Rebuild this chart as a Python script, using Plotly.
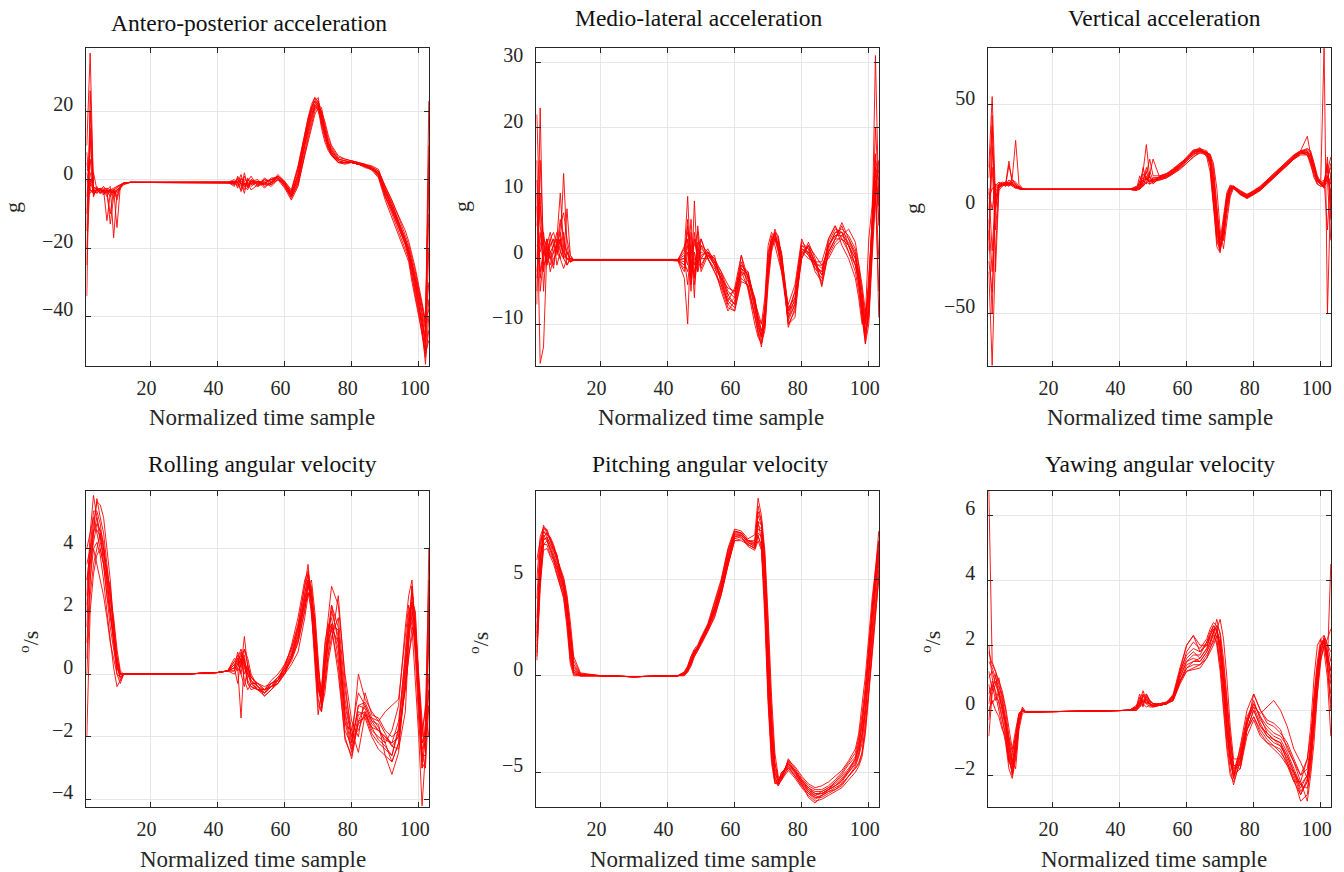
import plotly.graph_objects as go

# shared normalized time grid
time_sample = [1, 2, 3, 4, 5, 6, 7, 8, 9, 10, 11, 12, 14, 20, 30, 40, 43, 45, 46, 47, 48, 49, 50,
               52, 54, 56, 58, 60, 62, 64, 66, 67, 68, 69, 70, 71, 72, 73, 74, 76, 78, 80, 82, 84,
               86, 88, 90, 92, 94, 96, 97, 98, 99, 100, 101, 102, 103]
x_ticks = [20, 40, 60, 80, 100]

titles = ["Antero-posterior acceleration", "Medio-lateral acceleration", "Vertical acceleration",
          "Rolling angular velocity", "Pitching angular velocity", "Yawing angular velocity"]
units = ["g", "g", "g", "<sup>o</sup>/s", "<sup>o</sup>/s", "<sup>o</sup>/s"]
y_ticks = [[-40, -20, 0, 20], [-10, 0, 10, 20, 30], [-50, 0, 50],
           [-4, -2, 0, 2, 4], [-5, 0, 5], [-2, 0, 2, 4, 6]]

ap_acc = [
    [10, 37, -3, -3, -3.5, -3, -3.5, -3, -2.5, -2, -1.5, -1, -0.8, -0.8, -0.8, -0.7, -0.8, -1, 0.5, -1.5, 0, -1, -2, -0.5, -1, 0, 1, -1, -4, 1, 11, 15, 19, 22, 23, 18, 14, 10, 8, 5.5, 5, 5, 4.5, 4, 3, 1.5, -4, -8, -13, -18, -21, -26, -30, -35, -40, -46, 23],
    [-34, 26, -2, -3, -4, -3, -12, -4, -3, -2, -1.5, -1, -0.8, -0.8, -0.9, -0.8, -0.7, -0.5, -2, -1, -3, 0, -1, -2, 0.5, -1, 0.5, -2, -5.5, -1, 9, 13, 17, 21, 22, 20, 15, 11, 9, 6, 5.5, 5, 4.5, 4, 3.5, 2, -3, -7, -12, -17, -20, -24, -29, -34, -38, -44, -30],
    [5, -2, 2, -3, -2.5, -4, -3, -2, -17, -4, -2, -1, -0.8, -0.8, -0.8, -0.8, -0.8, 0, -1, 1.5, -2, -1, 0, -1.5, -1, -2, 0, -1.5, -3.5, 3, 13, 17, 21, 24, 22, 16, 12, 9, 7, 5, 5, 5.5, 5, 4.5, 3.5, 2.5, -2, -6, -11, -16, -19, -23, -27, -32, -37, -42, 0],
    [-20, 0, -4, -3.5, -3, -2.5, -3, -5, -3, -14, -2, -1, -0.8, -0.8, -0.7, -0.8, -0.9, -1.5, -0.5, -3.5, -1, -2, -0.5, 0, -2, -1, 1.5, -0.5, -3, 4, 14, 18, 21, 23, 21, 15, 11, 8.5, 7, 5, 5, 5, 4.5, 4, 3.5, 1, -5, -10, -15, -20, -23, -28, -33, -38, -43, -54, -40],
    [8, -4, -3, -4, -3, -3.5, -4, -3, -4, -3, -2, -1.2, -0.8, -0.8, -0.8, -0.8, -0.8, -1, -1.5, 0, -0.5, -2.5, -1, -1, 0, -0.5, 0.5, -1.5, -4.5, 0, 10, 14, 18, 21, 21, 19, 15, 11, 8.5, 6, 5.5, 5, 4.5, 3.5, 3, 1.5, -3.5, -8, -13, -18, -22, -27, -31, -37, -42, -48, -10],
    [-10, 15, -5, -2.5, -3, -3, -4, -10, -3, -2.5, -1.5, -1, -0.8, -0.8, -0.8, -0.8, -0.7, -2, 1, -1, -4, 0.5, -1.5, -0.5, -1.5, -1, 0, -2.5, -6, -2, 8, 12, 16, 20, 22, 21, 16, 12, 9.5, 6.5, 6, 5.5, 5, 4.5, 4, 3, -2.5, -7, -12, -17, -20, -25, -29, -33, -39, -50, -35],
    [2, -3, -3.5, -3, -4, -3, -2.5, -3, -5, -3, -2.5, -1.5, -0.8, -0.8, -0.8, -0.8, -0.8, -0.5, -1, -2, 1, -1.5, -0.5, -1, -0.5, 0, 1, -1, -5, 2, 12, 16, 20, 22, 20, 17, 13, 10, 8, 5.5, 5, 5, 4.5, 4, 3, 2, -4.5, -9, -14, -19, -22, -26, -31, -36, -41, -47, 10],
    [-5, 6, -4, -3, -3.5, -4.5, -3, -3.5, -3, -6, -2, -1, -0.8, -0.8, -0.8, -0.7, -0.8, -1, 0, -1, -2, -3, 0, -1, -1.5, 0.5, 0.5, -1, -4, 1.5, 12, 17, 21, 23, 22, 17, 13, 9.5, 7.5, 5, 4.5, 5, 4.5, 4, 3, 1, -5, -9, -14, -19, -23, -29, -34, -39, -45, -52, -44],
    [0, -3, -4, -3, -2.5, -3.5, -3, -4, -3.5, -3, -2, -1, -0.8, -0.8, -0.8, -0.8, -0.8, -0.5, -2.5, 0.5, -1.5, -1, -3, -1.5, 0, -1.5, 1, -0.5, -3.5, 3.5, 13.5, 18, 22, 24, 23, 19, 14, 10, 7.5, 5, 5, 5, 4.5, 3.8, 2.8, 0.5, -6, -11, -16, -21, -24, -30, -35, -40, -45, -50, -20],
    [-15, 20, -3, -2, -4, -3, -5, -3, -4, -3.5, -2.5, -1.2, -0.8, -0.8, -0.8, -0.8, -0.8, -1.2, 0, -1, -1.5, -0.5, 1, -2, -1, 0, 0.5, -2, -5, -1.5, 7, 11, 15, 19, 21, 20, 17, 13, 10, 7, 6, 5.5, 5, 4.5, 3.8, 2.5, -2, -6, -11, -15, -18, -22, -26, -31, -36, -41, -38],
    [3, 2, -3, -4, -3, -2, -3, -13, -5, -3, -2, -1, -0.8, -0.8, -0.8, -0.8, -0.8, -0.8, -1, -3, 2, -2, -1, -0.5, -2.5, -0.5, 1, -1, -4.5, 0.5, 11, 16, 20, 23, 24, 18, 13, 9.5, 7.5, 5, 4.8, 5.2, 4.8, 4.2, 3.2, 1.5, -3.5, -8.5, -13.5, -18.5, -21.5, -25, -30, -36, -44, -51, -47],
    [-25, 12, -4.5, -3, -3, -4, -3.5, -3, -3, -5, -2, -1, -0.8, -0.8, -0.8, -0.8, -0.8, -1, -0.5, -0.5, -1, -2, -0.5, -1, -1, -1.5, 0, -1.5, -5, -0.5, 10, 14, 18.5, 21.5, 22.5, 18, 14, 10.5, 8.5, 6, 5.5, 5, 4.5, 4, 3.2, 2, -3, -7.5, -12.5, -17.5, -21, -25, -28, -33, -37, -43, 5],
]

ml_acc = [
    [22, 5, 1, 0, 3, 1, 2, 4, 1, 0, -0.5, -0.3, -0.2, -0.2, -0.2, -0.2, -0.3, 1, 9.5, -2, 3, 0, 1, 0.5, -1, -3, -6, -7, -2, -3, -8, -10, -12, -8, 0, 3, 4, 2, -1, -9, -6, 1, 2, -1, -2, 2, 4, 4, 3, 1, -2, -6, -11, -5, 6, 14, 12],
    [-7, 23, -2, 2, 0, -1.5, 3, 10, 2, -1, 0, -0.2, -0.2, -0.2, -0.2, -0.3, -0.2, -3, -10, 4, -1, 2, -1, 1, 0, -2, -5, -6, -1, -2, -7, -9, -11, -10, -2, 2, 3, 3, 0, -8, -7, 2, 1, -1, -1, 1, 3, 5, 2, 0, -4, -8, -13, -6, 4, 31, 8],
    [10, -16, -13.5, 1, 2, 3, 1, 2, 13, 2, -0.5, -0.2, -0.2, -0.2, -0.2, -0.2, -0.4, 2, 3, -5, 8.8, -2, 3, 0, 0.5, -4, -7, -8, -3, -4, -9, -11, -13.5, -9, -1, 2, 4.5, 3, 0, -10, -8, 0, 2.5, 0, -4, 1, 3, 3, 2, -1, -3, -7, -12, -8, 2, 12, -9],
    [0, 8, 3, -1, 1, 2, 3, 1, 0, 7.6, 0.5, -0.3, -0.2, -0.2, -0.2, -0.2, -0.2, 0, -4, 2, -6, 5, 0, 1.5, -0.5, -2.5, -5.5, -5, -1.5, -3.5, -6, -9, -10, -6, 2, 4, 3, 1, -2, -7, -4, 3, 0.5, -1.5, -3, 3, 5, 3, 1, -1, -3, -9, -13, -10, 0, 9, 15],
    [15, -5, 0, 2, 4, 2, 1, 0, -1.5, 0, -0.3, -0.2, -0.2, -0.2, -0.1, -0.2, -0.2, -1, 5, 0, -3, 1, 3, 0, -1.5, -3, -7, -6, 0.5, -5, -10, -12, -13, -11, -4, 1, 3, 2.5, 1, -8, -5, 2, 1.5, -0.5, -0.5, 3, 5, 2, 0, -3, -6, -10, -9, 3, 8, 16, 5],
    [5, 10, -5, 3, 1, -1, 2, 6, 3, 1, 0, -0.3, -0.2, -0.2, -0.2, -0.2, -0.2, -2, 1, -3, 4, -1, 2, 0, -2, -4, -6.5, -7.5, -2.5, -2, -7, -10, -12, -9, -2, 2.5, 3.5, 2, -1, -9, -7, 1, 1, -1.5, -2, 2, 3.5, 4, 2, 0, -2, -5, -10, -3, 5, 12, 8],
    [-3, 2, 4, 0, -1, 1, 0.5, 3, 0, 1, 0, -0.2, -0.2, -0.2, -0.2, -0.2, -0.2, 0.5, -1, 6, -3, 2.5, 1.5, 0.5, -0.5, -3, -4.5, -5, -0.5, -3, -6.5, -8.5, -10, -8, 0, 3.5, 2, 0, -2, -9.5, -7, 0, 2, 0.5, -1, 0, 2, 3, 2, -1, -4, -8, -11, -9, 1, 11, 0],
    [8, -3, 1, 1.5, 0, 2, 4, 2, 1, 0, -0.5, -0.2, -0.2, -0.2, -0.2, -0.2, -0.3, -1.5, 2, -1, 0, -0.5, 0.5, 1, -1, -5, -8, -6.5, -2, -4.5, -9, -11, -12.5, -10, -1, 2, 4, 2, 0.5, -10, -9, 1.5, 1, -1, -2.5, 2.5, 4.5, 4, 1, -2, -5, -9, -12, -7, 3, 20, 10],
    [2, 1, 3, 2, -2, 0, 1, 5, 7, 3, 0.5, -0.2, -0.2, -0.2, -0.2, -0.2, -0.2, -0.5, -2, 1, 2, 4, -2, 0.5, 0, -3.5, -6.5, -4.5, 0.5, -3, -7.5, -10.5, -12, -7, 1, 3, 3, 1.5, -1.5, -8.5, -5, 2.5, 1.5, -2, -3.5, 1.5, 4, 4.5, 3.5, 1.5, -1, -5, -9, -4, 5, 15, 13],
    [-5, 15, 2, -1, 2, 3, -1, 1, 4, 0, 0, -0.2, -0.2, -0.2, -0.2, -0.2, -0.2, 1.5, 4, 3, -4, 0, 2, 1, -1, -2.5, -5.5, -7, -1, -2.5, -6.5, -9.5, -11.5, -10.5, -3, 1.5, 3, 2.5, 0.5, -7.5, -6, 1, 0, -0.5, -1.5, 2, 3.5, 3.5, 2.5, 0.5, -2.5, -7, -12, -9, 2, 10, -5],
    [12, -2, 1, 3, 0, 1, 2, 0, 2, 1, -0.5, -0.2, -0.2, -0.2, -0.2, -0.2, -0.2, 0, 6, -4, 1, -2, 0, 0, -2, -4.5, -7.5, -8, -3.5, -4, -8.5, -11.5, -13, -10, -2, 2, 4, 3.5, 0.5, -10.5, -7.5, 0.5, 2, -0.5, -2.5, 0.5, 2.5, 3.5, 4.5, 2.5, -0.5, -4, -8, -6, 3, 14, 6],
    [-2, 4, -1, 0, 3, 4, 2, 3, 0, -1, 0, -0.2, -0.2, -0.2, -0.2, -0.2, -0.2, -1, 3, -2, -2, 1.5, -1.5, 1, -0.5, -2, -4, -5.5, -1.5, -2.5, -6, -9, -11, -9, -1.5, 2.5, 3.5, 1.5, -1, -8, -6.5, 1.5, 0.5, -0.5, -4.3, 1, 3, 5.5, 3, 0.5, -3, -6.5, -10, -4, 6, 13, 9],
]

vt_acc = [
    [20, 54, 5, 12, 12, 12, 13, 11, 10, 10, 9.5, 9.5, 9.5, 9.5, 9.5, 9.5, 9.5, 10, 12, 14, 18, 13, 15, 15, 16, 18, 21, 23, 26, 28, 26, 22, 8, -12, -18, -5, 6, 11, 10, 8, 6, 8, 10, 13, 16, 19, 22, 25, 27, 27, 25, 19, 14, 12, 12, 15, 20],
    [-30, -75, -20, 9, 11, 12, 23, 12, 11, 10, 9.5, 9.5, 9.5, 9.5, 9.5, 9.5, 9.5, 9, 14, 18, 31, 15, 13, 16, 17, 19, 22, 24, 27, 29, 27, 24, 12, -5, -17, -12, 3, 9, 11, 8.5, 7, 8.5, 10.5, 13.5, 16.5, 19.5, 22.5, 25.5, 28, 28, 24, 18, 13, 13, 78, -50, 10],
    [-10, -50, 12, 11, 12, 13, 12, 15, 33, 12, 10, 9.5, 9.5, 9.5, 9.5, 9.5, 9.5, 11, 10, 20, 14, 17, 24, 15, 16.5, 19, 21, 24, 28, 29.5, 25, 18, 2, -15, -20, -8, 4, 10, 11, 7, 5.5, 7.5, 9.5, 12.5, 15.5, 18.5, 21.5, 24.5, 27, 26, 21, 16, 12, 11, 11, 18, 25],
    [0, 20, -10, 10, 11.5, 12, 11, 13, 10, 11, 9.5, 9.5, 9.5, 9.5, 9.5, 9.5, 9.5, 9.5, 9.5, 12, 15, 13, 14, 14.5, 15.5, 17.5, 20, 23, 26.5, 27, 27, 25, 15, 0, -14, -15, 0, 8, 10.5, 7.5, 6, 8, 10, 13, 16, 19, 22, 25, 28, 29, 27, 22, 16, 13, 12, 14, -15],
    [10, -20, 8, 12, 13, 12.5, 12, 11, 12, 10, 9.5, 9.5, 9.5, 9.5, 9.5, 9.5, 9.5, 10, 11, 13, 16, 12, 13, 14, 15, 17, 19.5, 22, 25, 27, 26, 23, 10, -8, -20, -10, 5, 10, 10, 7, 5.5, 7.5, 9.5, 12.5, 15.5, 18.5, 21, 24, 26, 26, 23, 17, 13, 12, 11, 16, 12],
    [-20, 30, 2, 11, 12, 11.5, 14, 12, 10.5, 10.5, 9.5, 9.5, 9.5, 9.5, 9.5, 9.5, 9.5, 9, 16, 11, 13, 16, 12, 15.5, 17, 18.5, 21.5, 25, 28.5, 28.5, 27, 24, 5, -18, -21, -6, 7, 11, 10.5, 8, 6.5, 8.5, 11, 14, 17, 20, 23, 26, 28, 35, 26, 20, 14, 12, 13, 20, 5],
    [5, 10, 10, 12, 12, 12, 11, 14, 12, 10, 9.5, 9.5, 9.5, 9.5, 9.5, 9.5, 9.5, 10, 13, 15, 17, 24, 16, 16, 17, 19.5, 22, 24.5, 27.5, 28, 27.5, 26, 18, -3, -15, -3, 8, 11.5, 11, 8.5, 7, 9, 11, 14, 17, 20, 23, 26, 28, 27, 22, 15, 12, 11, 12, 14, 22],
    [-25, -40, 0, 11, 11.5, 13, 12.5, 12, 11, 9.5, 9.5, 9.5, 9.5, 9.5, 9.5, 9.5, 9.5, 9.5, 10, 14, 12, 18, 14, 15, 16, 18, 20.5, 23.5, 27, 28, 26, 21, 3, -10, -19, -10, 2, 9, 10, 7, 5, 7, 9, 12, 15, 18, 21, 24, 26.5, 27, 26, 21, 15, 12, 10, 25, -5],
    [15, 40, 0, 12, 12.5, 11, 12, 12, 11, 10.5, 9.5, 9.5, 9.5, 9.5, 9.5, 9.5, 9.5, 9.5, 11, 17, 14, 13, 15, 15, 16, 17.5, 20.5, 24, 27.5, 29, 28, 25, 14, -6, -18, -13, 2, 9, 11, 8, 6.5, 8, 10, 13, 16, 19, 22, 25, 27.5, 28, 26, 20, 14, 12, 11, 13, 15],
    [-5, -30, 5, 11, 11, 12, 12, 13, 12, 10, 9.5, 9.5, 9.5, 9.5, 9.5, 9.5, 9.5, 10.5, 10, 13, 20, 15, 14, 15.5, 16.5, 18.5, 21, 24.5, 28, 28, 26.5, 23, 6, -14, -20, -8, 5, 10.5, 10.5, 7.5, 6, 7.5, 9.5, 12.5, 15.5, 18.5, 21.5, 24.5, 27, 27.5, 24, 19, 15, 13, 14, -10, 18],
    [8, 0, 11, 13, 12, 11, 21, 14, 13, 11, 10, 9.5, 9.5, 9.5, 9.5, 9.5, 9.5, 10, 12, 11, 15, 14, 13, 14.5, 15.5, 17.5, 20, 23, 26, 28.5, 27, 26, 20, 2, -16, -15, -2, 7, 11, 9, 7, 8.5, 10.5, 13.5, 16.5, 19.5, 22.5, 25.5, 27.5, 26, 23, 18, 14, 12, 13, 22, 0],
    [-15, 45, -30, 10, 12, 12, 12, 11.5, 10.5, 10, 9.5, 9.5, 9.5, 9.5, 9.5, 9.5, 9.5, 9, 9.5, 11, 13, 12, 14, 14, 15, 17, 19, 22, 25, 27.5, 27, 26.5, 22, 10, -10, -19, -6, 6, 10, 7.5, 5.5, 7, 9, 12, 15, 18, 21, 24, 27, 29, 28, 22, 15, 12, 11, 16, 8],
]

roll_vel = [
    [4, 4.5, 5, 4.5, 4, 3.5, 2.5, 1.5, 0.8, 0.2, 0, 0, 0, 0, 0, 0.05, 0.1, 0.2, 0.5, 0.8, 0.3, 0, -0.2, -0.4, -0.5, -0.3, -0.1, 0.2, 0.6, 1.2, 2.5, 3.2, 2.5, 1, -0.5, -0.8, 0.5, 1.5, 1.8, 0.5, -1.8, -2.3, -1, -1.1, -1.6, -1.8, -2, -2.2, -1.5, 0.5, 1.8, 2.2, 0.5, -1.5, -3, -2, 1],
    [2, 3.5, 4.5, 5.6, 5, 4.5, 3.5, 2.5, 1.5, 0.3, -0.1, 0, 0, 0, 0, 0.05, 0.1, 0.3, 0.2, -1.4, 0.5, -0.3, -0.4, -0.5, -0.6, -0.4, -0.2, 0.1, 0.4, 1, 2, 2.8, 3, 2, 0.5, -1, -0.3, 0.6, 1.2, 1.8, -0.5, -1.8, -2.5, -1.3, -1.4, -1.7, -2.2, -2.8, -2.2, -0.5, 0.5, 1.5, 1.2, -0.5, -2.5, -3, -1],
    [-2, 2, 3.2, 3.8, 4, 3.5, 3, 2, 1, 0.5, 0, 0, 0, 0, 0, 0.05, 0.1, 0.4, 0.6, 0.2, 1.2, 0.2, -0.1, -0.3, -0.5, -0.4, -0.3, 0, 0.5, 1.5, 2.8, 3.5, 2.2, 0.5, -1, -1.2, 0, 1, 1.5, 1, -1, -2, -1.8, -1.2, -1.8, -2, -2.2, -1.8, -1, 1.5, 2.5, 3, 1.2, -0.5, -2, -1, -2],
    [3, 4, 4.8, 5.5, 5.4, 5, 4, 3, 1.5, 0.5, 0, 0, 0, 0, 0, 0.05, 0.1, 0.1, 0.3, 0.5, -0.2, -0.5, -0.3, -0.5, -0.7, -0.5, -0.3, 0, 0.3, 0.7, 1.8, 2.5, 2.7, 1.5, 0, -0.5, 0.8, 1.8, 2.8, 2.2, 0, -1.5, -2, -0.6, -1.3, -1.4, -1.8, -2, -1.8, -0.5, 0.6, 1.2, 1.5, 0, -1.5, -2.5, 4],
    [1, 3, 4, 4.2, 3.8, 3, 2, 1, 0.2, -0.4, -0.2, 0, 0, 0, 0, 0.05, 0.1, 0, 0.2, 0.5, 0, 0.3, -0.3, -0.5, -0.5, -0.2, 0, 0.3, 0.8, 1.5, 2.2, 2.6, 2, 0.3, -1.3, -0.5, 1, 1.6, 1.5, 0, -2, -2.7, -1.5, -1, -1.5, -1.6, -2.6, -3.2, -2.5, 0, 1.5, 2.8, 1, -1, -2.2, -1.8, -1],
    [2.5, 4.5, 5.7, 5, 4.5, 3.5, 2.5, 2, 1, 0, -0.3, 0, 0, 0, 0, 0.05, 0.1, 0.2, -0.3, 0.5, 0.8, 0.5, 0, -0.4, -0.6, -0.3, -0.2, 0.2, 0.9, 1.8, 3, 3.3, 2.6, 1.2, -0.3, -1, 0.3, 1.2, 2, 1.2, -1.2, -2.2, 0, -0.8, -1.2, -1.5, -1.2, -1, -0.8, 1.2, 2.2, 1.5, -0.2, -2, -4.2, -2.5, 0],
    [0, 2.5, 3.5, 4, 4.5, 4, 3, 2.2, 1.2, 0.2, 0, 0, 0, 0, 0, 0.05, 0.1, 0.3, 0.1, 0.3, 0.6, -0.2, -0.4, -0.5, -0.6, -0.4, -0.1, 0, 0.5, 1.2, 2.2, 2.9, 2.3, 1.3, 0.2, -0.6, 0.2, 1, 2.2, 1.5, -0.8, -2, -1.2, -1.3, -1.9, -2.2, -2.4, -2.6, -1.8, 0.8, 2, 2.3, 1, -1, -3, -2.8, 2],
    [3.5, 4, 4, 3.5, 3, 2.5, 1.8, 1, 0.5, 0, -0.1, 0, 0, 0, 0, 0.05, 0.1, 0.5, 0.4, 0, 0.8, 0.3, -0.1, -0.3, -0.4, -0.3, -0.2, 0.2, 0.7, 1.4, 2.6, 3, 2, 0.8, -0.5, -0.9, 0.4, 1.3, 1.6, 0.8, -1.5, -2.5, -1.3, -1.2, -1.7, -1.8, -2, -2.3, -2, -0.3, 1, 2, 1.5, -0.8, -2.2, -2, -0.5],
    [3, 3.5, 4.2, 4.8, 4.6, 4.2, 3.2, 2.4, 1.8, 0.8, 0.1, 0, 0, 0, 0, 0.05, 0.1, 0.2, 0.7, 0.4, 0.3, -0.3, -0.5, -0.4, -0.6, -0.4, -0.3, 0.1, 0.5, 1, 2, 2.6, 2.4, 1.8, 0.3, -1.1, -0.6, 0.4, 1, 2.5, -0.2, -2.2, -1, -0.9, -1.4, -1.5, -1.9, -2.3, -2.4, -1.2, 1, 2.3, 2, -0.2, -1.8, -1.2, 3],
    [1.5, 4, 5.2, 5.2, 4.8, 4, 3.2, 2.8, 1.8, 0.6, 0, 0, 0, 0, 0, 0.05, 0.1, 0.1, 0.4, 0.6, 0.4, 0.1, -0.2, -0.5, -0.5, -0.3, -0.2, 0.1, 0.5, 1.1, 2.3, 3, 2.8, 1.6, -0.2, -1, 0.2, 1.1, 1.4, 0.3, -2.1, -2.6, -1.5, -1.4, -2, -2.4, -2.6, -2.8, -2.2, 0.2, 1.5, 2.6, 1.8, -0.3, -2.4, -2.2, -0.5],
    [0.5, 3, 4.5, 5, 4.2, 3.8, 2.8, 1.8, 1.2, 0.4, -0.2, 0, 0, 0, 0, 0.05, 0.1, 0.3, 0.5, 0, -0.4, 0.2, -0.1, -0.4, -0.7, -0.5, -0.2, 0.3, 0.8, 1.6, 2.8, 3.2, 2.2, 0.6, -0.8, -1.2, -0.2, 0.8, 1.6, 1.4, -1.3, -2.4, -1.6, -1.3, -1.7, -2.1, -2.3, -2.6, -1.7, 0.3, 1.6, 1.8, 0.8, -0.6, -2.6, -2.6, 2.5],
    [2.2, 3.8, 4.6, 4.6, 4.4, 3.8, 3.4, 2.6, 1.4, 0.2, -0.1, 0, 0, 0, 0, 0.05, 0.1, 0.4, 0.3, 0.7, 0.2, 0, -0.3, -0.3, -0.5, -0.4, -0.3, 0.1, 0.6, 1.3, 2.4, 2.8, 2.4, 1.1, -0.4, -0.7, 0.5, 1.4, 2.2, 1, -1.6, -1.8, -0.6, -1, -1.5, -1.8, -2.1, -2.2, -2, -0.4, 1.2, 2.8, 1.4, -0.8, -2.8, -1.5, 1.5],
]

pitch_vel = [
    [1, 5, 7, 7.2, 6.8, 6.3, 5.8, 5, 4.5, 3.5, 1.5, 0.3, 0.05, 0, -0.05, 0, 0, 0.1, 0.3, 0.7, 1.2, 1.5, 1.8, 2.5, 3.4, 4.6, 6.2, 7.3, 7.3, 6.9, 6.8, 7.6, 7.5, 5, 0, -3, -5, -5.5, -5.2, -4.6, -5, -5.5, -5.9, -6.1, -6.1, -5.9, -5.7, -5.5, -5, -4.5, -4, -3, -1.5, 0.5, 3, 4.8, 6.2],
    [3, 6.5, 7.8, 7.5, 7, 6.5, 6, 5.5, 5, 4, 2.5, 0.8, 0.1, 0, -0.05, 0, 0, 0.2, 0.5, 1, 1.4, 1.6, 2, 2.7, 3.8, 5, 6.6, 7.6, 7.5, 7.1, 7.3, 9.2, 8.3, 6.5, 3, -1, -4, -5.2, -5.4, -4.3, -4.8, -5.3, -5.7, -5.9, -5.9, -5.7, -5.4, -5, -4.5, -4, -3.2, -2, -0.5, 1.5, 3.8, 5.5, 7],
    [2, 6, 7.3, 7, 6.5, 6, 5.5, 4.8, 4.3, 3, 1, 0.1, 0, 0, -0.05, 0, 0, 0.05, 0.2, 0.5, 1, 1.3, 1.7, 2.4, 3.2, 4.3, 5.8, 7, 7.1, 6.8, 6.6, 7.2, 6.8, 3.5, -1, -4, -5.5, -5.7, -5.3, -4.8, -5.1, -5.6, -6.3, -6.6, -6.2, -6, -5.8, -5.6, -5.2, -4.8, -4.5, -4, -2.8, -1, 1.2, 3.2, 5],
    [6, 7, 7.5, 7.3, 7.2, 6.8, 6.2, 5.5, 4.8, 3.8, 2, 0.5, 0.05, 0, -0.05, 0, 0, 0.1, 0.4, 0.8, 1.3, 1.5, 1.9, 2.6, 3.6, 4.8, 6.4, 7.5, 7.4, 7, 7, 8.5, 8, 6, 2, -2.5, -4.8, -5.4, -5.1, -4.5, -4.9, -5.4, -5.8, -6, -6, -5.8, -5.5, -5.2, -4.8, -4.3, -3.6, -2.5, -1, 1, 3.3, 5, 6.5],
    [1.5, 5.5, 6.8, 6.8, 6.3, 6, 5.3, 4.6, 4, 2.5, 0.6, 0, 0, 0, -0.05, 0, 0, 0, 0.2, 0.6, 1.1, 1.4, 1.7, 2.3, 3.1, 4.2, 5.7, 7.1, 7.2, 6.7, 6.5, 7, 6.5, 3, -1.5, -4.5, -5.6, -5.5, -5, -4.7, -5.2, -5.7, -6.1, -6.4, -6.2, -6, -5.9, -5.6, -5.2, -4.8, -4.6, -4, -2.5, -0.8, 1.5, 3.5, 5.5],
    [4, 6.8, 7.5, 7.2, 6.8, 6.5, 6, 5.2, 4.6, 3.5, 1.8, 0.4, 0.05, 0, -0.05, 0, 0, 0.15, 0.4, 0.9, 1.3, 1.5, 1.9, 2.6, 3.5, 4.7, 6.3, 7.4, 7.4, 7, 6.9, 8.3, 7.8, 5.5, 1, -2, -4.5, -5.3, -5.3, -4.4, -4.7, -5.2, -5.6, -5.8, -5.7, -5.5, -5.2, -4.9, -4.4, -3.8, -3, -1.5, 0, 2, 4, 5.5, 7.5],
    [2.5, 6.2, 7.2, 7.4, 7, 6.6, 6.3, 5.4, 4.8, 3.8, 2.2, 0.6, 0.1, 0, -0.05, 0, 0, 0.1, 0.3, 0.8, 1.2, 1.4, 1.8, 2.5, 3.3, 4.5, 6, 7.2, 7.3, 6.9, 6.7, 8, 7, 4.5, 0.5, -3.5, -5.3, -5.6, -5.2, -4.5, -5, -5.6, -6, -6.2, -6, -5.8, -5.6, -5.3, -4.9, -4.4, -3.8, -3, -1.8, 0, 2.5, 4.5, 6],
    [1.2, 4.8, 6.5, 6.6, 6.2, 5.8, 5.2, 4.6, 4.1, 2.8, 0.8, 0.1, 0, 0, -0.05, 0, 0, 0.05, 0.25, 0.6, 1, 1.3, 1.6, 2.3, 3, 4.2, 5.7, 7, 7, 6.8, 6.6, 7.3, 6.6, 4, -0.5, -3.8, -5.4, -5.6, -5, -4.8, -5.2, -5.7, -6.1, -6.3, -6.3, -6.1, -5.9, -5.7, -5.2, -4.7, -4.2, -3.5, -2, 0, 2.2, 4, 5.8],
    [2.2, 5.8, 7.6, 7.6, 7.1, 6.7, 6.1, 5.6, 5.1, 4.2, 2.8, 1, 0.15, 0, -0.05, 0, 0, 0.2, 0.5, 1, 1.3, 1.5, 1.9, 2.6, 3.7, 4.9, 6.5, 7.5, 7.4, 7, 6.8, 8.8, 8, 6.2, 2.5, -1.8, -4.5, -5.4, -5.3, -4.4, -4.9, -5.4, -5.8, -6.1, -6.1, -5.9, -5.5, -5.1, -4.6, -4.2, -3.4, -2.3, -0.8, 1.2, 3.6, 5.2, 6.8],
    [0.8, 4.5, 6.8, 7, 6.6, 6.1, 5.6, 4.9, 4.3, 3.2, 1.2, 0.2, 0, 0, -0.05, 0, 0, 0.05, 0.3, 0.6, 1.1, 1.4, 1.7, 2.4, 3.3, 4.4, 5.9, 7.2, 7.2, 6.8, 6.6, 7.4, 7.2, 3.8, -1.2, -4.2, -5.5, -5.6, -5.4, -4.9, -5.3, -5.8, -6.2, -6.5, -6.4, -6.2, -6, -5.8, -5.4, -5, -4.7, -4.2, -3, -1.2, 1, 3, 5.2],
    [5, 7.2, 7.7, 7.4, 7.1, 6.7, 6.2, 5.3, 4.7, 3.6, 1.6, 0.3, 0.05, 0, -0.05, 0, 0, 0.1, 0.35, 0.75, 1.25, 1.45, 1.85, 2.55, 3.5, 4.6, 6.1, 7.4, 7.4, 7, 6.9, 8, 7.8, 5.6, 1.5, -2.8, -5, -5.5, -5.2, -4.6, -4.9, -5.4, -5.9, -6.2, -6.1, -5.9, -5.7, -5.4, -4.9, -4.3, -3.7, -2.6, -1, 1.2, 3.5, 5.2, 7],
    [1.8, 5.2, 7.1, 7.1, 6.6, 6.2, 5.7, 5.1, 4.6, 3.3, 1.4, 0.2, 0, 0, -0.05, 0, 0, 0.1, 0.3, 0.7, 1.2, 1.45, 1.8, 2.5, 3.4, 4.5, 6, 7.3, 7.3, 6.9, 6.7, 7.8, 7.6, 5.2, 0.8, -3.2, -5.2, -5.7, -5.4, -4.7, -5, -5.5, -6, -6.3, -6.2, -5.9, -5.7, -5.4, -5, -4.6, -4.1, -3.2, -1.8, 0.2, 2.6, 4.4, 6.5],
]

yaw_vel = [
    [6.8, 1.5, 1.2, 0.8, 0.3, -0.3, -1, -1.6, -1, -0.2, 0.05, -0.05, -0.05, -0.05, -0.03, -0.01, 0, 0.1, 0.5, 0.2, 0.4, 0.2, 0.15, 0.15, 0.2, 0.4, 1.1, 1.8, 2.1, 1.9, 2.2, 2.5, 2.7, 2.6, 1.8, 0.6, -0.6, -1.5, -2, -1.3, -0.3, 0.3, -0.3, -0.6, -0.8, -0.9, -1.3, -1.8, -2.3, -2, -1.2, 0, 1.2, 2, 2.2, 1.5, 0.5],
    [1, 1.2, 0.8, 0.5, 0, -0.6, -1.4, -2, -1.3, -0.4, 0, -0.05, -0.05, -0.05, -0.03, -0.01, 0, 0.05, 0.2, 0.4, 0.5, 0.3, 0.2, 0.15, 0.2, 0.35, 0.9, 1.3, 1.4, 1.4, 1.7, 1.9, 2.2, 2.4, 2.2, 1.2, 0, -1, -1.8, -1.6, -0.4, 0.1, -0.4, -0.8, -1, -1.1, -1.5, -2, -2.6, -2.1, -1, 0.5, 1.5, 2.2, 2.3, 2, 1.5],
    [-0.8, 0.5, 0.8, 1, 0.4, -0.2, -0.9, -1.5, -1.8, -0.6, -0.1, -0.05, -0.05, -0.05, -0.03, -0.01, 0, 0, 0.1, 0.3, 0.2, 0.1, 0.1, 0.15, 0.2, 0.3, 0.8, 1.2, 1.3, 1.4, 1.6, 1.9, 2.1, 2.5, 2.8, 2.2, 1, -0.5, -1.5, -1.5, -0.5, 0.5, 0, -0.3, -0.4, -0.6, -1.2, -1.6, -2, -1.5, -0.5, 1, 2, 2.2, 1.8, 1, -0.8],
    [2, 1, 0.5, 0, -0.5, -1, -1.8, -2.1, -1.5, -0.5, 0.1, -0.05, -0.05, -0.05, -0.03, -0.01, 0, 0.15, 0.3, 0.6, 0.3, 0.2, 0.15, 0.15, 0.2, 0.5, 1.3, 2, 2.3, 2, 2, 2.3, 2.5, 2.2, 1.5, 0.2, -1, -1.8, -2.3, -1.5, -0.6, -0.2, -0.6, -0.9, -1.1, -1.2, -1.7, -1.9, -2.4, -2, -1.5, -0.5, 0.8, 1.8, 2.2, 1.8, 1.2],
    [0.5, 0.8, 0.3, 0.6, 0.2, -0.5, -1.2, -1.8, -1.2, -0.3, 0, -0.05, -0.05, -0.05, -0.03, -0.01, 0, 0, 0.1, 0.2, 0.1, 0.15, 0.1, 0.15, 0.2, 0.3, 1, 1.5, 1.6, 1.5, 1.8, 2, 2.4, 2.8, 2.3, 1, -0.3, -1.3, -1.9, -1.2, -0.2, 0.2, -0.2, -0.5, -0.7, -0.8, -1.1, -1.6, -2.2, -2.8, -2, -1, 0.5, 1.5, 2, 2.2, 2.5],
    [1.5, 1.3, 1, 0.7, 0.5, 0, -0.8, -1.3, -0.8, -0.2, 0, -0.05, -0.05, -0.05, -0.03, -0.01, 0, 0.05, 0.4, 0.1, 0.5, 0.3, 0.2, 0.2, 0.25, 0.45, 1.2, 1.7, 1.9, 1.8, 2, 2.2, 2.4, 2, 1.2, 0, -1.2, -2, -2.2, -1.6, -0.6, 0, -0.5, -0.7, -0.9, -1, -1.6, -2.2, -2.2, -1.5, -0.8, 0.2, 1.2, 2, 2.2, 1.5, 4.5],
    [0, 0.3, 0, -0.2, -0.6, -0.8, -1.5, -1.9, -1.1, -0.3, 0, -0.05, -0.05, -0.05, -0.03, -0.01, 0, 0.1, 0.2, 0.3, 0.2, 0.2, 0.12, 0.15, 0.2, 0.4, 1, 1.5, 1.7, 1.7, 2.1, 2.4, 2.6, 2.4, 1.7, 0.8, -0.5, -1.4, -2.1, -1.4, -0.4, 0.2, -0.2, -0.7, -0.9, -1, -1.4, -1.9, -2.5, -2.2, -1.4, -0.2, 1, 1.8, 2.1, 1.6, 1],
    [1.2, 0.6, 1.1, 0.4, 0.1, -0.3, -1.1, -1.7, -0.9, -0.1, 0, -0.05, -0.05, -0.05, -0.03, -0.01, 0, 0.05, 0.15, 0.45, 0.35, 0.2, 0.15, 0.2, 0.2, 0.35, 0.9, 1.4, 1.5, 1.6, 1.9, 2.1, 2.3, 2.1, 1.4, 0.5, -0.8, -1.6, -2, -1.8, -0.8, -0.3, -0.8, -1, -1.2, -1.4, -1.7, -2.2, -2.6, -2.2, -1.2, 0.3, 1.4, 2, 2.1, 1.3, 0.2],
    [0.2, 0.9, 0.6, 0.2, -0.3, -0.7, -1.6, -1.8, -1, -0.3, 0, -0.05, -0.05, -0.05, -0.03, -0.01, 0, 0.1, 0.3, 0.25, 0.3, 0.15, 0.15, 0.15, 0.2, 0.4, 1.2, 2, 2.3, 1.8, 2.1, 2.3, 2.5, 2.5, 2, 0.9, -0.6, -1.5, -2.1, -1.1, 0, 0.5, 0, -0.4, -0.5, -0.7, -1, -1.5, -2, -1.8, -1, 0.3, 1.3, 2, 2.2, 1.7, 1.2],
    [1.8, 1.4, 1.2, 0.9, 0.6, 0.1, -0.6, -1.2, -0.6, -0.1, 0, -0.05, -0.05, -0.05, -0.03, -0.01, 0, 0, 0.15, 0.35, 0.25, 0.2, 0.15, 0.2, 0.25, 0.45, 0.9, 1.2, 1.25, 1.3, 1.6, 1.8, 2, 2.3, 2.1, 1.4, 0.3, -0.9, -1.7, -1.7, -0.6, -0.2, -0.7, -1, -1.1, -1.3, -1.6, -2.1, -2.8, -2.6, -1.6, -0.4, 1, 1.9, 2.1, 1.8, 0.8],
    [0.8, 0.2, 0.4, 0.3, -0.2, -0.9, -1.6, -1.4, -0.7, -0.1, 0, -0.05, -0.05, -0.05, -0.03, -0.01, 0, 0.05, 0.2, 0.5, 0.2, 0.3, 0.2, 0.2, 0.25, 0.4, 1.1, 1.6, 1.8, 1.6, 1.9, 2.3, 2.6, 2.5, 1.9, 1, -0.2, -1.2, -2, -1.4, -0.3, 0.1, -0.1, 0.1, 0.3, 0, -0.5, -1.2, -1.6, -2.1, -1.6, -0.3, 0.8, 1.6, 2, 1.4, 0],
    [-0.3, 0.7, 0.9, 0.6, 0, -0.4, -1.3, -2, -1.4, -0.4, 0, -0.05, -0.05, -0.05, -0.03, -0.01, 0, 0.1, 0.25, 0.15, 0.45, 0.25, 0.2, 0.15, 0.2, 0.3, 0.85, 1.3, 1.5, 1.5, 1.8, 2.1, 2.4, 2.6, 2.4, 1.6, 0.4, -0.8, -1.7, -1.8, -0.6, 0, -0.5, -0.8, -0.9, -1.1, -1.4, -1.9, -2.3, -2.4, -1.8, -0.7, 0.5, 1.7, 2.3, 2, 1.8],
]

series = [ap_acc, ml_acc, vt_acc, roll_vel, pitch_vel, yaw_vel]
y_ranges = [[-54.5, 38.4], [-16.4, 32.1], [-75.3, 77.2], [-4.24, 5.85], [-6.8, 9.59], [-2.98, 6.76]]

for s in series:
    for c in s:
        if len(c) != len(time_sample):
            raise ValueError("length mismatch %d" % len(c))

W, H = 1344, 872
FONT = "Liberation Serif, Times New Roman, serif"
x_px = [(86.3, 429.3), (536.3, 879.3), (988.3, 1331.3)]
y_px = [(48.3, 366.0), (490.7, 807.0)]

fig = go.Figure()
layout = dict(width=W, height=H, margin=dict(l=0, r=0, t=0, b=0),
              paper_bgcolor="white", plot_bgcolor="white", showlegend=False,
              font=dict(family=FONT, size=20, color="#262626"))
annotations = []

title_pos = [(249, 23), (699, 18), (1164, 18), (262, 464), (711, 464), (1160, 464)]
xlab_pos = [(262, 417), (711, 417), (1160, 417), (253, 859), (703, 859), (1154, 859)]
ylab_pos = [(12, 208), (462, 207), (913, 209), (29, 642), (479, 643), (931, 642)]

for k in range(6):
    r, c = divmod(k, 3)
    idx = "" if k == 0 else str(k + 1)
    xa, ya = "x" + idx, "y" + idx
    for curve in series[k]:
        fig.add_trace(go.Scatter(x=time_sample, y=curve, mode="lines", xaxis=xa, yaxis=ya,
                                 line=dict(color="#ff0000", width=0.9), hoverinfo="skip"))
    x0, x1 = x_px[c]
    y0, y1 = y_px[r]
    common = dict(showline=True, mirror="ticks", linecolor="#262626", linewidth=1,
                  ticks="inside", ticklen=5, tickcolor="#262626", tickwidth=1,
                  showgrid=True, gridcolor="#e6e6e6", gridwidth=1, zeroline=False,
                  automargin=False, tickfont=dict(family=FONT, size=20, color="#262626"))
    layout["xaxis" + idx] = dict(common, domain=[x0 / W, x1 / W], range=[0.85, 103.15],
                                 tickvals=x_ticks, anchor=ya, ticklabelstandoff=4,
                                 ticklabelshift=-4)
    layout["yaxis" + idx] = dict(common, domain=[1 - y1 / H, 1 - y0 / H], range=y_ranges[k],
                                 tickvals=y_ticks[k], anchor=xa, ticklabelstandoff=8,
                                 ticklabelshift=-7)
    tx, ty = title_pos[k]
    annotations.append(dict(text=titles[k], x=tx / W, y=1 - ty / H, xref="paper", yref="paper",
                            xanchor="center", yanchor="middle", showarrow=False,
                            font=dict(family=FONT, size=23.5, color="#111111")))
    lx, ly = xlab_pos[k]
    annotations.append(dict(text="Normalized time sample", x=lx / W, y=1 - ly / H, xref="paper",
                            yref="paper", xanchor="center", yanchor="middle", showarrow=False,
                            font=dict(family=FONT, size=23, color="#262626")))
    gx, gy = ylab_pos[k]
    annotations.append(dict(text=units[k], x=gx / W, y=1 - gy / H, xref="paper", yref="paper",
                            xanchor="center", yanchor="middle", showarrow=False, textangle=-90,
                            font=dict(family=FONT, size=22, color="#262626")))

layout["annotations"] = annotations
fig.update_layout(**layout)
fig.write_html("out.html", config={"displayModeBar": False},
               post_script="document.body.style.margin='0px';")
